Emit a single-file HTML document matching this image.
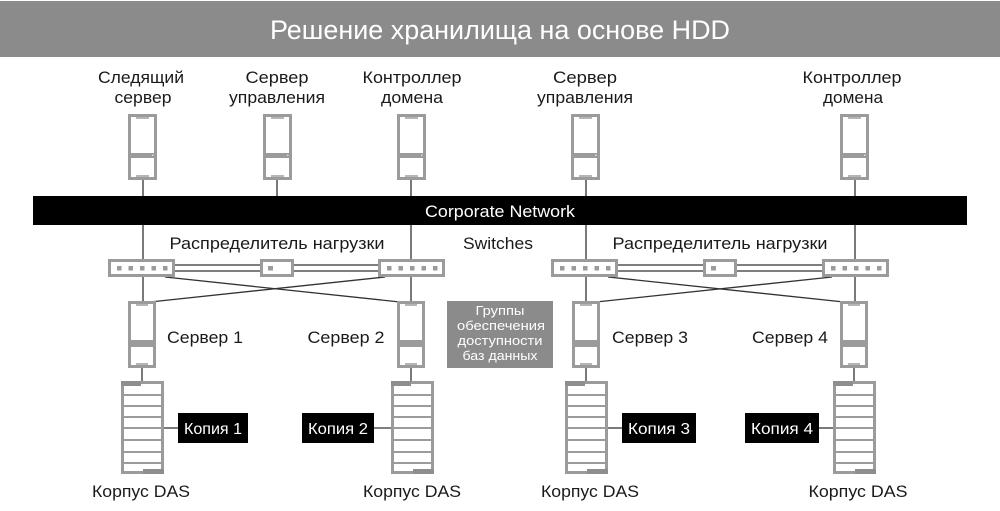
<!DOCTYPE html>
<html><head><meta charset="utf-8">
<style>
html,body{margin:0;padding:0;background:#fff;}
svg{display:block;}
text{font-family:"Liberation Sans","Noto Sans CJK SC",sans-serif;}
</style></head>
<body>
<svg width="1000" height="511" viewBox="0 0 1000 511" xmlns="http://www.w3.org/2000/svg">
<defs>
  <g id="srv">
    <rect x="0" y="0" width="29" height="66" fill="#9b9b9b"/>
    <rect x="3" y="3" width="23" height="36" fill="#fff"/>
    <rect x="3" y="44" width="23" height="19" fill="#fff"/>
    <rect x="8" y="3" width="13" height="2" fill="#b5b5b5"/>
    <rect x="8" y="61" width="13" height="2" fill="#b5b5b5"/>
    <rect x="24" y="40.5" width="1.5" height="1.5" fill="#ddd"/>
  </g>
  <g id="srv2">
    <rect x="0" y="0" width="28" height="67" fill="#9b9b9b"/>
    <rect x="3" y="3" width="22" height="36" fill="#fff"/>
    <rect x="3" y="46" width="22" height="18" fill="#fff"/>
    <rect x="8" y="3" width="12" height="2" fill="#b5b5b5"/>
    <rect x="8" y="62" width="12" height="2" fill="#b5b5b5"/>
  </g>
  <g id="das">
    <rect x="1.5" y="1.5" width="40" height="90" fill="#fff" stroke="#9b9b9b" stroke-width="3"/>
    <rect x="0" y="0" width="20" height="5" fill="#8e8e8e"/>
    <rect x="22" y="88" width="21" height="5" fill="#8e8e8e"/>
    <g fill="#9b9b9b">
      <rect x="3" y="13" width="37" height="2"/>
      <rect x="3" y="24" width="37" height="2"/>
      <rect x="3" y="35" width="37" height="2"/>
      <rect x="3" y="46" width="37" height="2"/>
      <rect x="3" y="58" width="37" height="2"/>
      <rect x="3" y="70" width="37" height="2"/>
      <rect x="3" y="81" width="37" height="2"/>
    </g>
  </g>
  <g id="sw5">
    <rect x="1.5" y="1.5" width="64" height="15" fill="#fff" stroke="#9b9b9b" stroke-width="3"/>
    <g fill="#9b9b9b">
      <rect x="9" y="7" width="4.5" height="4.5"/>
      <rect x="20.5" y="7" width="4.5" height="4.5"/>
      <rect x="32" y="7" width="4.5" height="4.5"/>
      <rect x="43.5" y="7" width="4.5" height="4.5"/>
      <rect x="55" y="7" width="4.5" height="4.5"/>
    </g>
  </g>
  <g id="sw1">
    <rect x="1.5" y="1.5" width="31" height="15" fill="#fff" stroke="#9b9b9b" stroke-width="3"/>
    <rect x="8" y="7" width="5" height="4.5" fill="#9b9b9b"/>
  </g>
</defs>

<!-- Title bar -->
<rect x="0" y="1" width="1000" height="56" fill="#8b8b8b"/>
<text x="500" y="39" font-size="27" fill="#fff" text-anchor="middle" textLength="460" lengthAdjust="spacingAndGlyphs">Решение хранилища на основе HDD</text>

<!-- Top labels -->
<g font-size="17" fill="#1a1a1a" text-anchor="middle">
  <text x="141" y="83" textLength="86" lengthAdjust="spacingAndGlyphs">Следящий</text>
  <text x="143" y="103" textLength="57" lengthAdjust="spacingAndGlyphs">сервер</text>
  <text x="277" y="83" textLength="63" lengthAdjust="spacingAndGlyphs">Сервер</text>
  <text x="277" y="103" textLength="96" lengthAdjust="spacingAndGlyphs">управления</text>
  <text x="412" y="83" textLength="99" lengthAdjust="spacingAndGlyphs">Контроллер</text>
  <text x="412" y="103" textLength="62" lengthAdjust="spacingAndGlyphs">домена</text>
  <text x="585" y="83" textLength="64" lengthAdjust="spacingAndGlyphs">Сервер</text>
  <text x="585" y="103" textLength="96" lengthAdjust="spacingAndGlyphs">управления</text>
  <text x="852" y="83" textLength="99" lengthAdjust="spacingAndGlyphs">Контроллер</text>
  <text x="853" y="103" textLength="60" lengthAdjust="spacingAndGlyphs">домена</text>
</g>

<!-- Connector lines -->
<g stroke="#333" stroke-width="1.3" fill="none">
  <line x1="143" y1="178" x2="143" y2="302"/>
  <line x1="277" y1="178" x2="277" y2="198"/>
  <line x1="411" y1="178" x2="411" y2="302"/>
  <line x1="586" y1="178" x2="586" y2="302"/>
  <line x1="855" y1="178" x2="855" y2="302"/>
  <!-- switch double lines -->
  <line x1="175" y1="265" x2="260" y2="265"/>
  <line x1="175" y1="271" x2="260" y2="271"/>
  <line x1="294" y1="265" x2="378" y2="265"/>
  <line x1="294" y1="271" x2="378" y2="271"/>
  <line x1="617" y1="265" x2="703" y2="265"/>
  <line x1="617" y1="271" x2="703" y2="271"/>
  <line x1="737" y1="265" x2="822" y2="265"/>
  <line x1="737" y1="271" x2="822" y2="271"/>
  <!-- cross lines -->
  <line x1="165" y1="277" x2="400" y2="302"/>
  <line x1="385" y1="277" x2="150" y2="302"/>
  <line x1="608" y1="277" x2="844" y2="302"/>
  <line x1="832" y1="277" x2="596" y2="302"/>
  <!-- server to DAS -->
  <line x1="142" y1="367" x2="142" y2="382"/>
  <line x1="411" y1="367" x2="411" y2="382"/>
  <line x1="586" y1="367" x2="586" y2="382"/>
  <line x1="854" y1="367" x2="854" y2="382"/>
  <!-- DAS to copies -->
  <line x1="164" y1="428" x2="178" y2="428"/>
  <line x1="374" y1="428" x2="391" y2="428"/>
  <line x1="608" y1="428" x2="622" y2="428"/>
  <line x1="819" y1="428" x2="833" y2="428"/>
</g>

<!-- Top servers -->
<use href="#srv" x="128" y="114"/>
<use href="#srv" x="263" y="114"/>
<use href="#srv" x="397" y="114"/>
<use href="#srv" x="571" y="114"/>
<use href="#srv" x="840" y="114"/>

<!-- Corporate network -->
<rect x="33" y="196" width="934" height="29" fill="#000"/>
<text x="500" y="217" font-size="17" fill="#fff" text-anchor="middle" textLength="150" lengthAdjust="spacingAndGlyphs">Corporate Network</text>

<!-- Switch labels -->
<g font-size="17" fill="#1a1a1a" text-anchor="middle">
  <text x="277" y="249" textLength="215" lengthAdjust="spacingAndGlyphs">Распределитель нагрузки</text>
  <text x="498" y="249" textLength="70" lengthAdjust="spacingAndGlyphs">Switches</text>
  <text x="720" y="249" textLength="215" lengthAdjust="spacingAndGlyphs">Распределитель нагрузки</text>
</g>

<!-- Switches -->
<use href="#sw5" x="108" y="259"/>
<use href="#sw1" x="260" y="259"/>
<use href="#sw5" x="378" y="259"/>
<use href="#sw5" x="551" y="259"/>
<use href="#sw1" x="703" y="259"/>
<use href="#sw5" x="822" y="259"/>

<!-- Lower servers -->
<use href="#srv2" x="128" y="301"/>
<use href="#srv2" x="397" y="301"/>
<use href="#srv2" x="572" y="301"/>
<use href="#srv2" x="840" y="301"/>

<g font-size="17" fill="#1a1a1a" text-anchor="middle">
  <text x="205" y="343" textLength="76" lengthAdjust="spacingAndGlyphs">Сервер 1</text>
  <text x="346" y="343" textLength="77" lengthAdjust="spacingAndGlyphs">Сервер 2</text>
  <text x="650" y="343" textLength="76" lengthAdjust="spacingAndGlyphs">Сервер 3</text>
  <text x="790" y="343" textLength="76" lengthAdjust="spacingAndGlyphs">Сервер 4</text>
</g>

<!-- Availability group box -->
<rect x="447" y="301" width="106" height="67" fill="#8b8b8b"/>
<g font-size="13" fill="#fff" text-anchor="middle">
  <text x="500" y="315" textLength="49" lengthAdjust="spacingAndGlyphs">Группы</text>
  <text x="501" y="330" textLength="88" lengthAdjust="spacingAndGlyphs">обеспечения</text>
  <text x="500" y="345" textLength="85" lengthAdjust="spacingAndGlyphs">доступности</text>
  <text x="500" y="360" textLength="75" lengthAdjust="spacingAndGlyphs">баз данных</text>
</g>

<!-- DAS -->
<use href="#das" x="121" y="381"/>
<use href="#das" x="391" y="381"/>
<use href="#das" x="565" y="381"/>
<use href="#das" x="833" y="381"/>

<!-- Copies -->
<rect x="178" y="413" width="70" height="30" fill="#000"/>
<rect x="302" y="413" width="72" height="30" fill="#000"/>
<rect x="622" y="413" width="74" height="30" fill="#000"/>
<rect x="745" y="413" width="74" height="30" fill="#000"/>
<g font-size="16" fill="#fff" text-anchor="middle">
  <text x="213" y="434" textLength="58" lengthAdjust="spacingAndGlyphs">Копия 1</text>
  <text x="338" y="434" textLength="60" lengthAdjust="spacingAndGlyphs">Копия 2</text>
  <text x="659" y="434" textLength="62" lengthAdjust="spacingAndGlyphs">Копия 3</text>
  <text x="782" y="434" textLength="62" lengthAdjust="spacingAndGlyphs">Копия 4</text>
</g>

<g font-size="17" fill="#1a1a1a" text-anchor="middle">
  <text x="141" y="497" textLength="98" lengthAdjust="spacingAndGlyphs">Корпус DAS</text>
  <text x="412" y="497" textLength="98" lengthAdjust="spacingAndGlyphs">Корпус DAS</text>
  <text x="590" y="497" textLength="98" lengthAdjust="spacingAndGlyphs">Корпус DAS</text>
  <text x="858" y="497" textLength="99" lengthAdjust="spacingAndGlyphs">Корпус DAS</text>
</g>
</svg>
</body></html>
